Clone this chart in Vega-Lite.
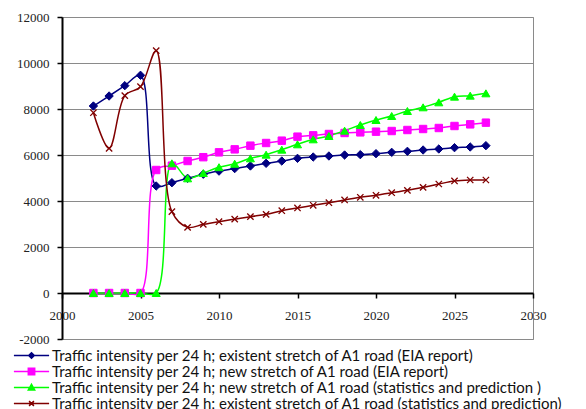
{
  "$schema": "https://vega.github.io/schema/vega-lite/v6.json",
  "width": 471,
  "height": 322,
  "autosize": {"type": "none"},
  "padding": {"left": 62, "top": 17, "right": 53, "bottom": 70},
  "background": "white",
  "config": {
    "view": {"stroke": "#8a8a8a", "strokeWidth": 1}
  },
  "data": {
    "values": [
      {"year": 2002, "eia_old": 8130, "eia_new": 0, "stat_new": 0, "stat_old": 7840},
      {"year": 2003, "eia_old": 8565, "eia_new": 0, "stat_new": 0, "stat_old": 6290},
      {"year": 2004, "eia_old": 9015, "eia_new": 0, "stat_new": 0, "stat_old": 8580},
      {"year": 2005, "eia_old": 9465, "eia_new": 0, "stat_new": 0, "stat_old": 8971},
      {"year": 2006, "eia_old": 4652, "eia_new": 5348, "stat_new": 0, "stat_old": 10536},
      {"year": 2007, "eia_old": 4796, "eia_new": 5536, "stat_new": 5638, "stat_old": 3536},
      {"year": 2008, "eia_old": 4986, "eia_new": 5739, "stat_new": 4986, "stat_old": 2855},
      {"year": 2009, "eia_old": 5165, "eia_new": 5905, "stat_new": 5215, "stat_old": 2985},
      {"year": 2010, "eia_old": 5300, "eia_new": 6116, "stat_new": 5470, "stat_old": 3101},
      {"year": 2011, "eia_old": 5410, "eia_new": 6246, "stat_new": 5620, "stat_old": 3210},
      {"year": 2012, "eia_old": 5522, "eia_new": 6406, "stat_new": 5855, "stat_old": 3319},
      {"year": 2013, "eia_old": 5638, "eia_new": 6522, "stat_new": 6015, "stat_old": 3420},
      {"year": 2014, "eia_old": 5739, "eia_new": 6623, "stat_new": 6232, "stat_old": 3579},
      {"year": 2015, "eia_old": 5855, "eia_new": 6797, "stat_new": 6464, "stat_old": 3696},
      {"year": 2016, "eia_old": 5913, "eia_new": 6855, "stat_new": 6681, "stat_old": 3812},
      {"year": 2017, "eia_old": 5957, "eia_new": 6913, "stat_new": 6826, "stat_old": 3927},
      {"year": 2018, "eia_old": 6000, "eia_new": 6957, "stat_new": 7058, "stat_old": 4044},
      {"year": 2019, "eia_old": 6015, "eia_new": 6985, "stat_new": 7305, "stat_old": 4160},
      {"year": 2020, "eia_old": 6058, "eia_new": 7014, "stat_new": 7522, "stat_old": 4247},
      {"year": 2021, "eia_old": 6116, "eia_new": 7043, "stat_new": 7696, "stat_old": 4362},
      {"year": 2022, "eia_old": 6160, "eia_new": 7087, "stat_new": 7913, "stat_old": 4464},
      {"year": 2023, "eia_old": 6217, "eia_new": 7130, "stat_new": 8073, "stat_old": 4594},
      {"year": 2024, "eia_old": 6261, "eia_new": 7174, "stat_new": 8290, "stat_old": 4739},
      {"year": 2025, "eia_old": 6319, "eia_new": 7261, "stat_new": 8536, "stat_old": 4870},
      {"year": 2026, "eia_old": 6348, "eia_new": 7333, "stat_new": 8580, "stat_old": 4913},
      {"year": 2027, "eia_old": 6406, "eia_new": 7406, "stat_new": 8681, "stat_old": 4913}
    ]
  },
  "transform": [
    {"fold": ["eia_old", "eia_new", "stat_new", "stat_old"], "as": ["series", "value"]}
  ],
  "encoding": {
    "x": {
      "field": "year",
      "type": "quantitative",
      "scale": {"domain": [2000, 2030], "nice": false, "zero": false},
      "axis": {
        "title": null,
        "values": [2000, 2005, 2010, 2015, 2020, 2025, 2030],
        "labelExpr": "'' + datum.value",
        "offset": -46,
        "grid": false,
        "domainColor": "#000000",
        "domainWidth": 2,
        "tickColor": "#000000",
        "tickWidth": 1.5,
        "tickSize": 5,
        "labelFont": "Liberation Serif",
        "labelFontSize": 13,
        "labelColor": "#222222",
        "labelPadding": 11,
        "labelFlush": false,
        "labelOverlap": false
      }
    },
    "y": {
      "field": "value",
      "type": "quantitative",
      "scale": {"domain": [-2000, 12000], "nice": false},
      "axis": {
        "title": null,
        "values": [-2000, 0, 2000, 4000, 6000, 8000, 10000, 12000],
        "labelExpr": "'' + datum.value",
        "grid": true,
        "gridColor": "#8a8a8a",
        "gridWidth": 1,
        "domainColor": "#000000",
        "domainWidth": 2,
        "tickColor": "#000000",
        "tickWidth": 1.5,
        "tickSize": 5,
        "labelFont": "Liberation Serif",
        "labelFontSize": 13,
        "labelColor": "#222222",
        "labelPadding": 8,
        "labelFlush": false,
        "labelOverlap": false
      }
    }
  },
  "layer": [
    {
      "mark": {"type": "line", "interpolate": "catmull-rom", "strokeWidth": 1.5},
      "encoding": {
        "color": {
          "field": "series",
          "type": "nominal",
          "scale": {
            "domain": ["eia_old", "eia_new", "stat_new", "stat_old"],
            "range": ["#000080", "#ff00ff", "#00ff00", "#800000"]
          },
          "legend": {
            "orient": "none",
            "legendX": -38,
            "legendY": 331,
            "title": null,
            "padding": 0,
            "rowPadding": -1.5,
            "symbolSize": 64,
            "labelOffset": 13,
            "labelFont": "Lato",
            "labelFontSize": 15,
            "labelColor": "#111111",
            "labelLimit": 800,
            "labelExpr": "datum.value == 'eia_old' ? 'Traffic intensity per 24 h; existent stretch of A1 road (EIA report)' : datum.value == 'eia_new' ? 'Traffic intensity per 24 h; new stretch of A1 road (EIA report)' : datum.value == 'stat_new' ? 'Traffic intensity per 24 h; new stretch of A1 road (statistics and prediction )' : 'Traffic intensity per 24 h; existent stretch of A1 road (statistics and prediction)'",
            "encoding": {
              "symbols": {
                "shape": {"value": {"expr": "['M-4.4,0L4.4,0M0,-0.7L0.7,0L0,0.7L-0.7,0Z', 'M-4.4,0L4.4,0M-0.8,-0.8L0.8,-0.8L0.8,0.8L-0.8,0.8Z', 'M-4.4,0L4.4,0M0,-0.8L0.8,0.65L-0.8,0.65Z', 'M-4.4,0L4.4,0M-0.6,-0.6L0.6,0.6M-0.6,0.6L0.6,-0.6'][datum.index]"}},
                "fill": {"value": {"expr": "scale('color', datum.value)"}},
                "stroke": {"value": {"expr": "scale('color', datum.value)"}},
                "strokeWidth": {"value": 1.5},
                "size": {"value": 64},
                "opacity": {"value": 1}
              }
            }
          }
        }
      }
    },
    {
      "transform": [{"filter": "datum.series == 'eia_old'"}],
      "mark": {"type": "point", "shape": "diamond", "filled": true, "opacity": 1, "size": 70, "color": "#000080", "stroke": "#000080", "strokeWidth": 1}
    },
    {
      "transform": [{"filter": "datum.series == 'eia_new'"}],
      "mark": {"type": "point", "shape": "square", "filled": true, "opacity": 1, "size": 55, "color": "#ff00ff", "stroke": "#ff00ff", "strokeWidth": 1}
    },
    {
      "transform": [{"filter": "datum.series == 'stat_new'"}],
      "mark": {"type": "point", "shape": "triangle-up", "filled": true, "opacity": 1, "size": 65, "color": "#00ff00", "stroke": "#00ff00", "strokeWidth": 1}
    },
    {
      "transform": [{"filter": "datum.series == 'stat_old'"}],
      "mark": {"type": "point", "shape": "M-1,-1L1,1M-1,1L1,-1", "filled": false, "opacity": 1, "size": 40, "color": "#800000", "stroke": "#800000", "strokeWidth": 1.3}
    }
  ]
}
